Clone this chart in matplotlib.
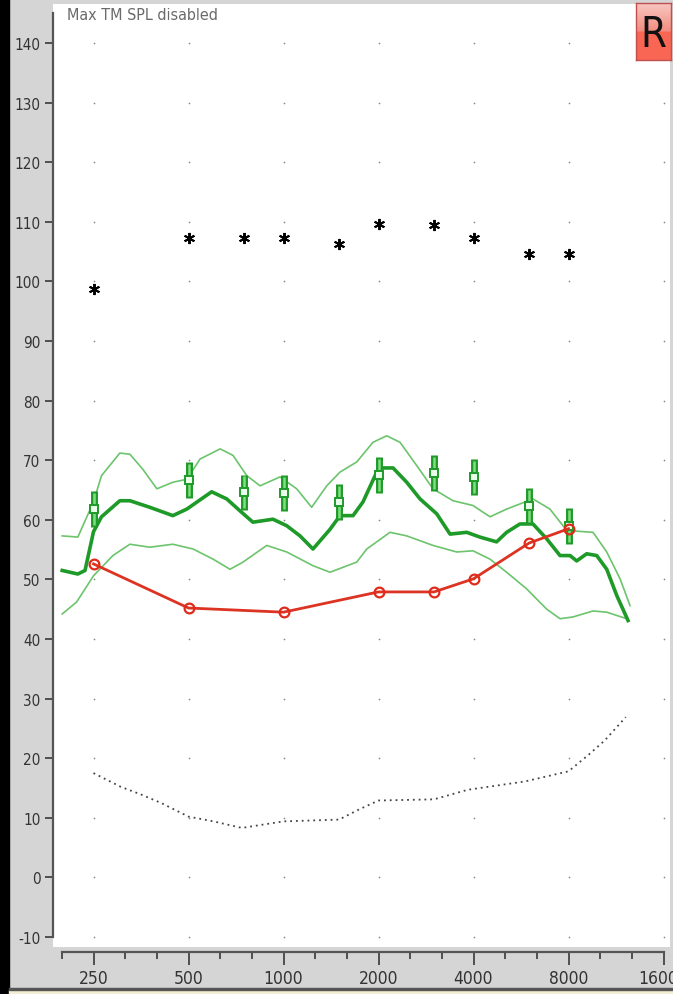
import numpy as np
import matplotlib
matplotlib.use('Agg')
from matplotlib import pyplot as plt
from matplotlib.patches import Rectangle

plt.rcParams['font.family'] = ['DejaVu Sans']
plt.rcParams['font.stretch'] = 'condensed'

# frequencias medidas (Hz) e niveis em dB SPL
freq_pontos = [250, 500, 750, 1000, 1500, 2000, 3000, 4000, 6000, 8000]
ucl = [98.7, 107.3, 107.3, 107.3, 106.3, 109.7, 109.4, 107.3, 104.6, 104.6]
alvo = [61.8, 66.7, 64.6, 64.5, 63.0, 67.5, 67.9, 67.2, 62.3, 59.0]
tol_alvo = 3

freq_limiar = [250, 500, 1000, 2000, 3000, 4000, 6000, 8000]
limiar = [52.6, 45.2, 44.5, 47.9, 47.9, 50.1, 56.1, 58.5]

# curva media (linha grossa)
medio_freq = [199, 223, 235, 250, 265, 303, 326, 377, 446, 494, 592, 661, 728, 800, 926,
              1024, 1128, 1240, 1404, 1510, 1661, 1786, 1974, 2067, 2224, 2457, 2708, 3059,
              3371, 3806, 4192, 4735, 5094, 5613, 6173, 6825, 7521, 8090, 8494, 9135, 9829,
              10574, 11375, 12351]
medio_db = [51.5, 50.9, 51.5, 58.0, 60.5, 63.2, 63.2, 62.1, 60.7, 61.8, 64.7, 63.5, 61.5, 59.6,
            60.1, 59.0, 57.3, 55.1, 58.4, 60.7, 60.7, 63.0, 68.0, 68.7, 68.7, 66.3, 63.5, 61.0,
            57.6, 57.9, 57.1, 56.3, 57.9, 59.3, 59.3, 56.8, 54.0, 54.0, 53.1, 54.3, 54.0, 51.7,
            47.3, 43.1]

# curva superior
sup_freq = [199, 223, 250, 265, 303, 326, 358, 397, 446, 494, 544, 630, 692, 765, 843, 975,
            1101, 1228, 1371, 1510, 1706, 1921, 2123, 2340, 2643, 2977, 3444, 3985, 4512,
            5094, 6173, 6986, 7898, 9568, 10574, 11654, 12533]
sup_db = [57.3, 57.1, 63.0, 67.4, 71.2, 71.0, 68.5, 65.2, 66.3, 66.8, 70.2, 71.9, 70.8, 67.4,
          65.7, 67.2, 65.2, 62.1, 65.7, 68.0, 69.7, 73.0, 74.1, 73.0, 69.1, 65.2, 63.2, 62.4,
          60.5, 61.8, 63.5, 61.8, 58.2, 57.9, 54.6, 50.1, 45.6]

# curva inferior
inf_freq = [199, 221, 250, 288, 326, 377, 446, 517, 598, 677, 744, 885, 1024, 1240, 1404,
            1706, 1836, 2175, 2457, 2977, 3538, 3985, 4512, 5094, 5897, 6825, 7521, 8265,
            9568, 10574, 12240]
inf_db = [44.2, 46.2, 50.6, 54.0, 55.9, 55.4, 55.9, 55.1, 53.4, 51.7, 52.9, 55.7, 54.6, 52.3,
          51.2, 52.9, 55.1, 57.9, 57.3, 55.7, 54.6, 54.8, 53.4, 51.2, 48.4, 45.0, 43.4, 43.7,
          44.7, 44.5, 43.4]

# limiar normal (pontilhado)
pont_freq = [250, 305, 354, 409, 500, 600, 738, 1000, 1500, 1735, 2000, 3000, 3834, 5826,
             8000, 9276, 10430, 12150]
pont_db = [17.5, 15.2, 13.9, 12.5, 10.2, 9.4, 8.3, 9.4, 9.7, 11.4, 12.9, 13.1, 14.7, 16.1,
           17.8, 20.6, 23.0, 26.9]

oitavas = [250, 500, 1000, 2000, 4000, 8000, 16000]
rotulos_x = ['250', '500', '1000', '2000', '4000', '8000', '16000']
niveis = list(range(-10, 150, 10))

W, H = 673, 995
fig = plt.figure(figsize=(W / 100, H / 100), dpi=100, facecolor='#d5d5d5')

def fx(px):
    return px / W

def fy(py):
    return 1 - py / H

# faixas da moldura
fig.patches.append(Rectangle((0, 0), fx(9), 1, transform=fig.transFigure,
                             color='black', zorder=0))
fig.patches.append(Rectangle((fx(9), fy(995)), 1, 4 / H, transform=fig.transFigure,
                             color='#f3efd6', zorder=0))
fig.patches.append(Rectangle((fx(9), fy(991)), 1, 2.5 / H, transform=fig.transFigure,
                             color='#555555', zorder=0))

x0, x1 = 53, 670
ytop, ybot = 5, 948
ax = fig.add_axes([fx(x0), fy(ybot), (x1 - x0) / W, (ybot - ytop) / H])
ax.set_facecolor('white')
ax.set_xscale('log', base=2)
fmin = 250 * 2 ** ((x0 - 93.5) / 95)
fmax = 250 * 2 ** ((x1 - 93.5) / 95)
ax.set_xlim(fmin, fmax)
ax.set_ylim((878.4 - ybot) / 5.96, (878.4 - ytop) / 5.96)

for s in ['top', 'right', 'bottom']:
    ax.spines[s].set_visible(False)
ax.spines['left'].set_bounds(-10, 145)
ax.spines['left'].set_color('#555555')
ax.spines['left'].set_linewidth(1.6)
ax.set_xticks([])
ax.set_xticks([], minor=True)
ax.set_yticks(niveis)
ax.set_yticklabels([str(v) for v in niveis])
ax.tick_params(axis='y', length=6, width=1.3, color='#444444', pad=3,
               labelsize=11, labelcolor='#333333')

# pontos da grade
gx, gy = np.meshgrid(oitavas, niveis)
ax.scatter(gx.ravel(), gy.ravel(), s=1.5, color='#888888', lw=0, zorder=1)

ax.plot(pont_freq, pont_db, color='#444444', lw=1.3, ls=(0, (1, 2.2)), zorder=2)

verde_claro = '#6cc46c'
verde = '#1e9a28'
ax.plot(sup_freq, sup_db, color=verde_claro, lw=1.2, zorder=3)
ax.plot(inf_freq, inf_db, color=verde_claro, lw=1.2, zorder=3)
ax.plot(medio_freq, medio_db, color=verde, lw=2.6, zorder=4)

alvo_arr = np.array(alvo)
ax.vlines(freq_pontos, alvo_arr - tol_alvo, alvo_arr + tol_alvo, color='#1f9a2a', lw=5, zorder=5)
ax.vlines(freq_pontos, alvo_arr - tol_alvo + 0.3, alvo_arr + tol_alvo - 0.3, color='#7fe07f', lw=1.8,
          zorder=6)
ax.plot(freq_pontos, alvo, ls='none', marker='s', ms=6, mfc='#eaffea', mec='#1f9a2a', mew=1.4,
        zorder=7)

ax.plot(freq_limiar, limiar, color='#dd3322', lw=2, marker='o', ms=7, mfc='none', mec='#e02a1a',
        mew=1.6, zorder=8)

ax.plot(freq_pontos, ucl, ls='none', marker=(6, 2, 0), ms=8, mew=1.4, color='black', zorder=9)

fig.text(fx(67), fy(15), 'Max TM SPL disabled', fontsize=11.5, color='#6a6a6a', va='center')

# eixo de frequencia inferior
ax2 = fig.add_axes([fx(x0), fy(953), (x1 - x0) / W, 0.0001])
ax2.set_facecolor('none')
ax2.set_xscale('log', base=2)
ax2.set_xlim(fmin, fmax)
for s in ['top', 'right', 'left']:
    ax2.spines[s].set_visible(False)
ax2.spines['bottom'].set_bounds(250 * 2 ** (-1 / 3), 16000)
ax2.spines['bottom'].set_color('#555555')
ax2.spines['bottom'].set_linewidth(1.6)
ax2.set_yticks([])
ax2.set_xticks(oitavas)
ax2.set_xticklabels(rotulos_x)
terco = [250 * 2 ** (k / 3) for k in range(-1, 19) if k % 3 != 0]
ax2.set_xticks(terco, minor=True)
ax2.tick_params(axis='x', which='major', length=9, width=1.3, color='#444444', pad=3,
                labelsize=12.5, labelcolor='#333333')
ax2.tick_params(axis='x', which='minor', length=5, width=1.3, color='#444444', labelbottom=False)

# botao R
axr = fig.add_axes([fx(636), fy(61), 35 / W, 57 / H])
grad = np.linspace(0, 1, 60)[:, None]
topo = np.array([0.97, 0.78, 0.76])
meio = np.array([0.95, 0.55, 0.50])
base = np.array([0.98, 0.40, 0.33])
cores = np.where(grad[..., None] < 0.5,
                 topo + (meio - topo) * (grad[..., None] / 0.5),
                 base + (base - base) * grad[..., None])
axr.imshow(cores, aspect='auto', extent=[0, 1, 0, 1])
axr.set_xticks([])
axr.set_yticks([])
for s in axr.spines.values():
    s.set_color('#c05050')
    s.set_linewidth(1)
axr.text(0.5, 0.45, 'R', fontsize=30, color='#111111', ha='center', va='center',
         transform=axr.transAxes)

fig.savefig('out.png', dpi=100, facecolor=fig.get_facecolor())
